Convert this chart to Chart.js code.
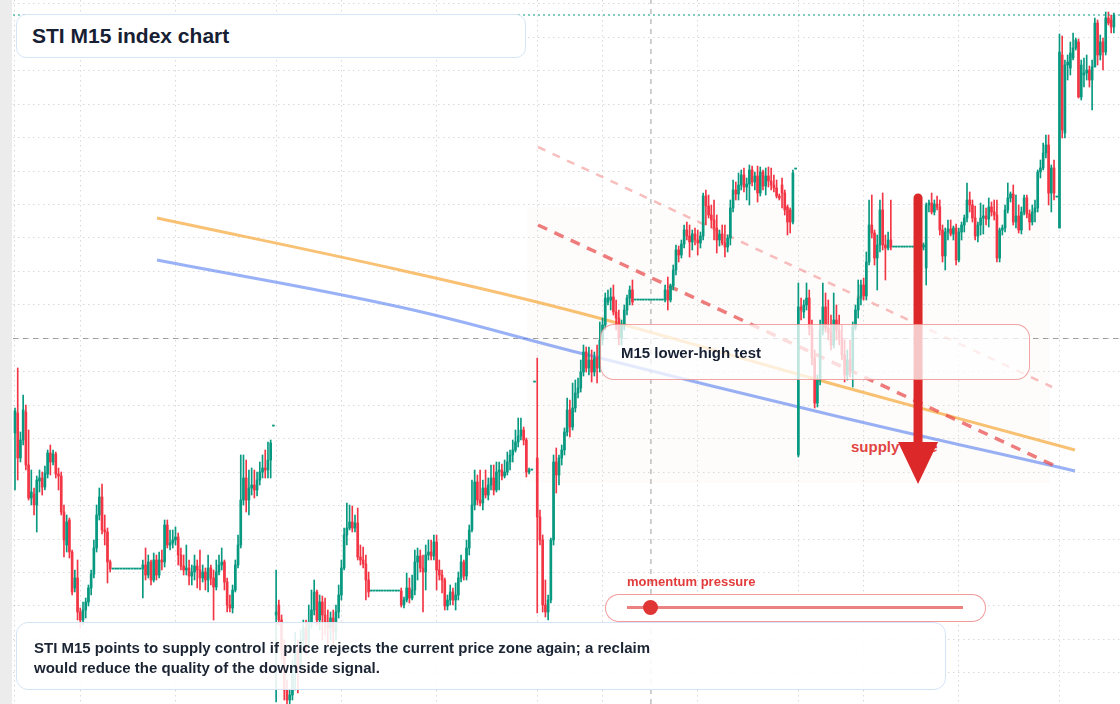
<!DOCTYPE html>
<html>
<head>
<meta charset="utf-8">
<title>STI M15 index chart</title>
<script src="https://cdn.jsdelivr.net/npm/chart.js@4.4.1/dist/chart.umd.min.js"></script>
<style>
  body { margin: 0; width: 1120px; height: 704px; overflow: hidden; background: #fff;
         font-family: "Liberation Sans", Arial, sans-serif; position: relative; }
  #strip { position: absolute; left: 0; top: 0; width: 12px; height: 704px; background: #ececec; }
  #wrap { position: absolute; left: 13px; top: 0; width: 1107px; height: 704px; z-index: 1; }
  #zoneLabel { position: absolute; left: 851px; top: 438px; font-size: 15px; line-height: 18px;
               font-weight: bold; color: #e23b3b; z-index: 0; white-space: nowrap; }
  .box { position: absolute; box-sizing: border-box; z-index: 2; white-space: nowrap; }
  #title { left: 16px; top: 14px; width: 510px; height: 44px; border: 1.5px solid #d8e4f7;
           border-radius: 10px; background: #fff; font-size: 21px; font-weight: bold;
           color: #172033; padding-left: 15px; line-height: 41px; }
  #test { left: 600px; top: 324px; width: 430px; height: 56px; border: 1.5px solid rgba(232,90,90,0.55);
          border-radius: 14px; background: rgba(255,255,255,0.74); font-size: 15px; font-weight: bold;
          color: #172033; padding-left: 20px; line-height: 55px; }
  #note { left: 16px; top: 622px; width: 930px; height: 68px; border: 1.5px solid #d6e3f7;
          border-radius: 12px; background: rgba(255,255,255,0.88); font-size: 15px; font-weight: bold;
          color: #1b2433; padding: 15px 0 0 17px; line-height: 20px; }
  #momLabel { left: 627px; top: 574px; font-size: 13px; line-height: 16px; font-weight: bold; color: #e23b3b; }
  #pill { left: 605px; top: 594px; width: 381px; height: 28px; border: 1.5px solid rgba(232,90,90,0.6);
          border-radius: 14px; background: #fff; }
  #track { position: absolute; left: 21px; top: 11px; width: 336px; height: 3px; background: rgba(228,80,80,0.72); }
  #knob { position: absolute; left: 37px; top: 5px; width: 15px; height: 15px; border-radius: 50%; background: #e03535; }
</style>
</head>
<body>
<div id="strip"></div>
<div id="zoneLabel">supply zone</div>
<div id="wrap"><canvas id="sti" width="1107" height="704"></canvas></div>
<div class="box" id="title">STI M15 index chart</div>
<div class="box" id="test">M15 lower-high test</div>
<div class="box" id="momLabel">momentum pressure</div>
<div class="box" id="pill"><div id="track"></div><div id="knob"></div></div>
<div class="box" id="note">STI M15 points to supply control if price rejects the current price zone again; a reclaim<br>would reduce the quality of the downside signal.</div>

<script>
// 15 minute candles, 96 per session day (last day only partly drawn)
const opens = [
  // day 1
  3567, 3587, 3542, 3560, 3588, 3535, 3502, 3506, 3495, 3519, 3522, 3513,
  3526, 3547, 3538, 3546, 3526, 3524, 3488, 3455, 3480, 3448, 3412, 3422,
  3388, 3380, 3390, 3398, 3412, 3426, 3452, 3485, 3503, 3470, 3468, 3438,
  3431, 3431, 3431, 3431, 3431, 3431, 3431, 3431, 3431, 3431, 3431,
  3431, 3435, 3425, 3438, 3420, 3440, 3425, 3440, 3438, 3475, 3455, 3457,
  3460, 3463, 3445, 3434, 3430, 3432, 3424, 3428, 3434, 3430, 3422, 3428,
  3420, 3432, 3422, 3413, 3428, 3435, 3438, 3418, 3395, 3392, 3410, 3435,
  3455, 3500, 3522, 3500, 3512, 3515, 3510, 3520, 3528, 3532, 3530, 3540, 3574,
  // day 2
  3385, 3395, 3380, 3350, 3310, 3300, 3305, 3330, 3350, 3335, 3360, 3372,
  3360, 3378, 3390, 3408, 3380, 3398, 3385, 3378, 3372, 3382, 3368, 3388,
  3405, 3432, 3465, 3472, 3478, 3472, 3477, 3443, 3440, 3436, 3420,
  3409, 3409, 3409, 3409, 3409, 3409, 3409, 3409, 3409, 3409, 3409,
  3409, 3395, 3400, 3412, 3402, 3410, 3438, 3444, 3432, 3428, 3445, 3448,
  3444, 3458, 3430, 3425, 3420, 3394, 3400, 3408, 3400, 3405, 3422, 3438,
  3424, 3452, 3470, 3495, 3518, 3500, 3497, 3512, 3505, 3515, 3522, 3510,
  3528, 3530, 3524, 3528, 3538, 3545, 3550, 3558, 3564, 3570, 3560, 3528, 3530, 3618,
  // day 3
  3542, 3483, 3460, 3395, 3388, 3400, 3460, 3538, 3525, 3542, 3550, 3568,
  3590, 3573, 3592, 3607, 3612, 3628, 3648, 3632, 3640, 3628, 3642, 3632,
  3660, 3675, 3698, 3700, 3703, 3688, 3682, 3662, 3675, 3690, 3702, 3710,
  3700, 3700, 3700, 3700, 3700, 3700, 3700, 3700, 3700, 3700, 3700,
  3700, 3710, 3700, 3714, 3730, 3750, 3745, 3756, 3770, 3764, 3758, 3766,
  3760, 3757, 3764, 3804, 3794, 3785, 3780, 3772, 3760, 3766, 3757, 3753,
  3762, 3792, 3810, 3806, 3815, 3825, 3813, 3816, 3830, 3818, 3824, 3807,
  3828, 3814, 3824, 3819, 3815, 3812, 3804, 3815, 3807, 3793, 3790, 3778, 3831,
  // day 4
  3545, 3693, 3688, 3695, 3702, 3672, 3642, 3597, 3620, 3670, 3693, 3672,
  3667, 3655, 3680, 3670, 3662, 3645, 3625, 3640, 3630, 3673, 3690, 3702,
  3715, 3704, 3738, 3775, 3767, 3742, 3755, 3790, 3755, 3752, 3760,
  3753, 3753, 3753, 3753, 3753, 3753, 3753, 3753, 3753, 3753, 3753,
  3753, 3732, 3795, 3797, 3788, 3796, 3793, 3770, 3744, 3768, 3771, 3766,
  3772, 3740, 3768, 3775, 3782, 3800, 3795, 3782, 3764, 3775, 3782, 3784,
  3781, 3793, 3788, 3785, 3742, 3770, 3772, 3790, 3802, 3806, 3778, 3784,
  3770, 3788, 3802, 3786, 3778, 3788, 3792, 3828, 3832, 3847, 3855, 3807, 3832, 3803,
  // day 5
  3772, 3945, 3867, 3935, 3932, 3942, 3952, 3958, 3903, 3925, 3927, 3930,
  3920, 3933, 3977, 3945, 3958, 3948, 3982, 3980, 3973
];
const highs = [
  3592, 3632, 3568, 3605, 3595, 3570, 3530, 3512, 3524, 3530, 3528, 3534,
  3550, 3555, 3550, 3548, 3532, 3528, 3495, 3485, 3482, 3450, 3430, 3440,
  3392, 3398, 3402, 3415, 3430, 3460, 3495, 3512, 3516, 3485, 3472, 3440,
  3431, 3431, 3431, 3431, 3431, 3431, 3431, 3431, 3431, 3431, 3431,
  3440, 3452, 3445, 3440, 3447, 3445, 3448, 3450, 3480, 3480, 3470, 3470,
  3473, 3467, 3452, 3445, 3455, 3440, 3435, 3445, 3440, 3450, 3435, 3432,
  3445, 3435, 3430, 3440, 3445, 3452, 3440, 3422, 3405, 3415, 3440, 3465,
  3545, 3545, 3540, 3530, 3532, 3530, 3528, 3538, 3545, 3550, 3558, 3560, 3574,

  3430, 3400, 3385, 3360, 3320, 3310, 3340, 3368, 3360, 3370, 3380, 3380,
  3395, 3410, 3420, 3410, 3405, 3404, 3402, 3390, 3388, 3390, 3395, 3415,
  3440, 3472, 3497, 3495, 3494, 3485, 3492, 3455, 3453, 3445, 3428,
  3409, 3409, 3409, 3409, 3409, 3409, 3409, 3409, 3409, 3409, 3409,
  3412, 3403, 3427, 3422, 3425, 3450, 3452, 3450, 3445, 3455, 3460, 3460,
  3465, 3465, 3440, 3430, 3422, 3405, 3415, 3412, 3417, 3428, 3445, 3440,
  3460, 3475, 3520, 3530, 3525, 3530, 3520, 3530, 3522, 3535, 3535, 3538,
  3538, 3536, 3540, 3548, 3550, 3560, 3570, 3582, 3582, 3573, 3562, 3532, 3530, 3618,

  3642, 3490, 3465, 3420, 3405, 3462, 3545, 3552, 3545, 3555, 3572, 3602,
  3600, 3617, 3620, 3622, 3640, 3655, 3653, 3653, 3650, 3648, 3655, 3678,
  3682, 3707, 3710, 3712, 3715, 3700, 3690, 3680, 3695, 3705, 3714, 3720,
  3700, 3700, 3700, 3700, 3700, 3700, 3700, 3700, 3700, 3700, 3700,
  3715, 3723, 3716, 3735, 3755, 3754, 3760, 3775, 3778, 3775, 3770, 3772,
  3770, 3768, 3807, 3810, 3805, 3795, 3800, 3785, 3770, 3775, 3775, 3765,
  3800, 3820, 3818, 3827, 3830, 3832, 3822, 3835, 3834, 3828, 3834, 3833,
  3830, 3832, 3833, 3832, 3825, 3820, 3806, 3822, 3810, 3795, 3792, 3830, 3831,

  3717, 3702, 3700, 3717, 3710, 3680, 3650, 3625, 3680, 3717, 3707, 3700,
  3685, 3707, 3695, 3685, 3675, 3660, 3650, 3660, 3678, 3695, 3720, 3720,
  3722, 3748, 3800, 3805, 3770, 3765, 3800, 3807, 3765, 3768, 3800,
  3753, 3753, 3753, 3753, 3753, 3753, 3753, 3753, 3753, 3753, 3753,
  3757, 3797, 3800, 3807, 3800, 3804, 3800, 3775, 3772, 3780, 3780, 3774,
  3776, 3772, 3778, 3785, 3817, 3808, 3800, 3794, 3778, 3797, 3795, 3792,
  3802, 3798, 3800, 3800, 3772, 3775, 3795, 3817, 3808, 3815, 3805, 3795,
  3793, 3805, 3805, 3790, 3795, 3800, 3830, 3840, 3857, 3865, 3865, 3835, 3840, 3803,

  3966, 3964, 3940, 3945, 3958, 3967, 3962, 3961, 3940, 3942, 3945, 3934,
  3940, 3982, 3980, 3965, 3962, 3988, 3988, 3985, 3987
];
const lows = [
  3510, 3520, 3538, 3555, 3530, 3500, 3495, 3485, 3468, 3508, 3505, 3510,
  3522, 3525, 3535, 3522, 3510, 3485, 3443, 3448, 3442, 3405, 3408, 3380,
  3372, 3375, 3382, 3394, 3405, 3422, 3448, 3480, 3466, 3455, 3417, 3428,
  3431, 3431, 3431, 3431, 3431, 3431, 3431, 3431, 3431, 3431, 3431,
  3402, 3420, 3422, 3415, 3418, 3420, 3422, 3430, 3433, 3452, 3450, 3452,
  3455, 3435, 3430, 3425, 3425, 3415, 3415, 3420, 3412, 3410, 3418, 3410,
  3408, 3415, 3380, 3410, 3425, 3430, 3410, 3388, 3388, 3387, 3408, 3432,
  3452, 3495, 3488, 3485, 3505, 3502, 3504, 3515, 3522, 3522, 3522, 3522, 3574,

  3298, 3375, 3340, 3300, 3296, 3296, 3300, 3310, 3307, 3330, 3350, 3345,
  3355, 3372, 3385, 3375, 3370, 3360, 3365, 3355, 3360, 3355, 3360, 3382,
  3400, 3430, 3455, 3470, 3468, 3468, 3440, 3435, 3432, 3400, 3403,
  3409, 3409, 3409, 3409, 3409, 3409, 3409, 3409, 3409, 3409, 3409,
  3393, 3392, 3398, 3397, 3400, 3405, 3420, 3428, 3388, 3410, 3440, 3440,
  3440, 3410, 3420, 3407, 3390, 3390, 3395, 3395, 3390, 3400, 3418, 3420,
  3420, 3445, 3468, 3490, 3495, 3494, 3490, 3502, 3500, 3510, 3505, 3508,
  3510, 3520, 3522, 3525, 3530, 3538, 3548, 3553, 3560, 3555, 3523, 3526, 3530, 3618,

  3387, 3455, 3388, 3383, 3380, 3397, 3455, 3507, 3515, 3535, 3545, 3564,
  3563, 3570, 3588, 3602, 3608, 3624, 3628, 3625, 3618, 3624, 3617, 3628,
  3655, 3670, 3695, 3690, 3685, 3670, 3655, 3655, 3670, 3685, 3695, 3695,
  3700, 3700, 3700, 3700, 3700, 3700, 3700, 3700, 3700, 3700, 3700,
  3698, 3690, 3698, 3710, 3725, 3738, 3742, 3752, 3760, 3743, 3750, 3755,
  3745, 3752, 3760, 3775, 3782, 3772, 3760, 3747, 3754, 3755, 3743, 3748,
  3755, 3788, 3800, 3800, 3810, 3808, 3800, 3795, 3814, 3810, 3798, 3804,
  3810, 3805, 3813, 3810, 3808, 3802, 3800, 3792, 3785, 3765, 3767, 3776, 3831,

  3543, 3680, 3682, 3690, 3665, 3635, 3592, 3593, 3615, 3665, 3668, 3660,
  3650, 3652, 3660, 3655, 3640, 3618, 3620, 3623, 3613, 3670, 3682, 3695,
  3700, 3700, 3735, 3762, 3735, 3710, 3748, 3750, 3720, 3750, 3750,
  3753, 3753, 3753, 3753, 3753, 3753, 3753, 3753, 3753, 3753, 3753,
  3750, 3715, 3788, 3786, 3785, 3790, 3765, 3738, 3730, 3760, 3764, 3760,
  3735, 3738, 3760, 3768, 3778, 3788, 3778, 3760, 3758, 3765, 3766, 3775,
  3773, 3784, 3780, 3738, 3738, 3765, 3768, 3787, 3798, 3775, 3772, 3767,
  3766, 3785, 3782, 3770, 3775, 3778, 3788, 3822, 3830, 3842, 3795, 3788, 3800, 3803,

  3772, 3862, 3862, 3920, 3925, 3940, 3950, 3902, 3900, 3913, 3920, 3913,
  3890, 3933, 3935, 3940, 3930, 3945, 3975, 3967, 3967
];
const closes = [
  3589, 3542, 3560, 3590, 3535, 3502, 3508, 3495, 3520, 3522, 3513, 3527,
  3547, 3538, 3546, 3526, 3524, 3488, 3460, 3478, 3448, 3408, 3422, 3388,
  3380, 3390, 3398, 3412, 3426, 3452, 3485, 3503, 3470, 3468, 3438, 3431,
  3431, 3431, 3431, 3431, 3431, 3431, 3431, 3431, 3431, 3431, 3431,
  3435, 3425, 3438, 3420, 3440, 3425, 3440, 3438, 3475, 3455, 3457, 3460,
  3463, 3445, 3434, 3430, 3432, 3424, 3428, 3434, 3430, 3422, 3428, 3420,
  3432, 3422, 3413, 3428, 3435, 3438, 3418, 3395, 3392, 3410, 3435, 3455,
  3500, 3522, 3500, 3512, 3515, 3510, 3520, 3528, 3532, 3530, 3540, 3557, 3574,

  3388, 3380, 3350, 3310, 3300, 3305, 3330, 3350, 3335, 3360, 3372, 3360,
  3378, 3390, 3408, 3380, 3398, 3385, 3378, 3372, 3382, 3368, 3388, 3405,
  3432, 3465, 3472, 3478, 3472, 3477, 3443, 3440, 3436, 3420, 3408,
  3409, 3409, 3409, 3409, 3409, 3409, 3409, 3409, 3409, 3409, 3409,
  3395, 3400, 3412, 3402, 3410, 3438, 3444, 3432, 3428, 3445, 3448, 3444,
  3458, 3430, 3425, 3420, 3394, 3400, 3408, 3400, 3405, 3422, 3438, 3424,
  3452, 3470, 3495, 3518, 3500, 3497, 3512, 3505, 3515, 3522, 3510, 3528,
  3530, 3524, 3528, 3538, 3545, 3550, 3558, 3564, 3570, 3560, 3528, 3530, 3530, 3618,

  3483, 3460, 3395, 3388, 3400, 3460, 3538, 3525, 3542, 3550, 3568, 3590,
  3573, 3592, 3607, 3612, 3628, 3648, 3632, 3640, 3628, 3642, 3632, 3660,
  3675, 3702, 3702, 3703, 3688, 3682, 3662, 3675, 3690, 3702, 3710, 3698,
  3700, 3700, 3700, 3700, 3700, 3700, 3700, 3700, 3700, 3700, 3700,
  3710, 3700, 3714, 3730, 3750, 3745, 3756, 3770, 3764, 3758, 3766, 3760,
  3757, 3764, 3804, 3794, 3785, 3780, 3772, 3760, 3766, 3757, 3753, 3762,
  3792, 3810, 3806, 3815, 3825, 3813, 3816, 3830, 3818, 3824, 3807, 3828,
  3814, 3824, 3819, 3815, 3812, 3804, 3802, 3807, 3790, 3778, 3778, 3827, 3831,

  3693, 3690, 3695, 3702, 3672, 3642, 3597, 3620, 3670, 3693, 3672, 3667,
  3655, 3680, 3670, 3662, 3645, 3625, 3640, 3630, 3673, 3690, 3702, 3715,
  3704, 3738, 3775, 3767, 3742, 3755, 3790, 3755, 3752, 3760, 3753,
  3753, 3753, 3753, 3753, 3753, 3753, 3753, 3753, 3753, 3753, 3753,
  3755, 3795, 3797, 3788, 3796, 3793, 3770, 3744, 3768, 3771, 3766, 3772,
  3740, 3768, 3775, 3782, 3800, 3795, 3782, 3764, 3775, 3782, 3784, 3781,
  3793, 3788, 3785, 3742, 3770, 3772, 3790, 3802, 3806, 3778, 3784, 3770,
  3788, 3802, 3786, 3778, 3788, 3792, 3828, 3832, 3847, 3855, 3807, 3832, 3807, 3803,

  3948, 3870, 3935, 3938, 3947, 3952, 3960, 3903, 3935, 3927, 3930, 3920,
  3933, 3977, 3945, 3958, 3948, 3982, 3977, 3973, 3985
];

// grid: session ticks on the time axis, price levels on the value axis
const timeTicks = [0, 24, 59, 96, 120, 155, 192, 216, 251, 288, 312, 347, 384];
const priceLevels = [3996.2, 3962.8, 3929.3, 3895.9, 3862.4, 3829.0, 3795.5, 3762.1, 3728.6,
                     3695.2, 3661.7, 3628.3, 3594.8, 3561.4, 3527.9, 3494.5, 3461.0, 3427.6,
                     3394.1, 3360.7, 3327.2];

// overlays
const trendIdx = [52.2, 141.5, 207.7, 303.3, 389.7];
const orangeCurve = [3782, 3730, 3687, 3614, 3550];
const blueCurve = [3740, 3693, 3647, 3583, 3529];
const upperDashIdx = [192.3, 381.3];
const upperDash = [3853, 3613];
const lowerDashIdx = [192.3, 382.4];
const lowerDash = [3775, 3534];
const zoneIdx = [188.2, 380.5];
const zoneLevels = [3793, 3517];
const crossIdx = 233.8;
const crossLevel = 3661.5;
const arrowIdx = 332;
const arrowLevels = [3802, 3558, 3516]; // top, head base, tip

const UP = '#089981';
const DOWN = '#f23645';
const yMin = 3296, yMax = 4000;
const xMin = -0.735, xMax = 406.25;

const n = Math.min(opens.length, highs.length, lows.length, closes.length);
const wickData = [];
const bodyData = [];
for (let i = 0; i < n; i++) {
  wickData.push({ x: i, y: [lows[i], highs[i]] });
  bodyData.push({ x: i, y: [opens[i], closes[i]] });
}
const tone = ctx => closes[ctx.dataIndex] >= opens[ctx.dataIndex] ? UP : DOWN;
const pts = (xs, ys) => xs.map((v, k) => ({ x: v, y: ys[k] }));
const lastClose = closes[n - 1];

// zone shading behind the candles, arrow on top
const overlay = {
  id: 'overlay',
  beforeDatasetsDraw(chart) {
    const { ctx, scales: { x, y } } = chart;
    const x0 = x.getPixelForValue(zoneIdx[0]), x1 = x.getPixelForValue(zoneIdx[1]);
    const y0 = y.getPixelForValue(zoneLevels[0]), y1 = y.getPixelForValue(zoneLevels[1]);
    ctx.save();
    ctx.fillStyle = 'rgba(235,205,165,0.06)';
    ctx.fillRect(x0, y0, x1 - x0, y1 - y0);
    ctx.restore();
  },
  afterDatasetsDraw(chart) {
    const { ctx, scales: { x, y } } = chart;
    const ax = x.getPixelForValue(arrowIdx);
    const yTop = y.getPixelForValue(arrowLevels[0]);
    const yBase = y.getPixelForValue(arrowLevels[1]);
    const yTip = y.getPixelForValue(arrowLevels[2]);
    ctx.save();
    ctx.strokeStyle = '#dc2828';
    ctx.fillStyle = '#dc2828';
    ctx.lineWidth = 9;
    ctx.lineCap = 'round';
    ctx.beginPath();
    ctx.moveTo(ax, yTop);
    ctx.lineTo(ax, yBase + 2);
    ctx.stroke();
    ctx.beginPath();
    ctx.moveTo(ax - 20, yBase);
    ctx.lineTo(ax + 20, yBase);
    ctx.lineTo(ax, yTip);
    ctx.closePath();
    ctx.fill();
    ctx.restore();
  }
};

new Chart(document.getElementById('sti'), {
  type: 'bar',
  data: {
    datasets: [
      { type: 'line', data: pts([crossIdx, crossIdx], [yMin, yMax]), borderColor: 'rgba(110,110,110,0.65)',
        borderWidth: 1, borderDash: [5, 5], pointRadius: 0, order: 10 },
      { type: 'line', data: pts([xMin, xMax], [crossLevel, crossLevel]), borderColor: 'rgba(110,110,110,0.65)',
        borderWidth: 1, borderDash: [5, 5], pointRadius: 0, order: 10 },
      { type: 'line', data: pts(trendIdx, orangeCurve), borderColor: 'rgba(246,160,40,0.65)',
        borderWidth: 3, pointRadius: 0, tension: 0.4, order: 8 },
      { type: 'line', data: pts(trendIdx, blueCurve), borderColor: 'rgba(85,125,240,0.6)',
        borderWidth: 3, pointRadius: 0, tension: 0.4, order: 8 },
      { type: 'line', data: pts(upperDashIdx, upperDash), borderColor: 'rgba(232,70,70,0.35)',
        borderWidth: 2.5, borderDash: [8, 8], pointRadius: 0, order: 7 },
      { type: 'line', data: pts(lowerDashIdx, lowerDash), borderColor: 'rgba(232,70,70,0.7)',
        borderWidth: 3.5, borderDash: [10, 8], pointRadius: 0, order: 7 },
      { type: 'bar', data: wickData, backgroundColor: tone, barThickness: 1, grouped: false,
        borderWidth: 0, order: 6 },
      { type: 'bar', data: bodyData, backgroundColor: tone, barThickness: 2, minBarLength: 1,
        grouped: false, borderWidth: 0, order: 5 },
      { type: 'line', data: pts([xMin, xMax], [lastClose, lastClose]), borderColor: UP,
        borderWidth: 1.2, borderDash: [2, 3], pointRadius: 0, order: 1 }
    ]
  },
  options: {
    responsive: false,
    animation: false,
    devicePixelRatio: 1,
    events: [],
    layout: { padding: 0 },
    plugins: { legend: { display: false }, tooltip: { enabled: false } },
    scales: {
      x: {
        type: 'linear', min: xMin, max: xMax, offset: false,
        ticks: { display: false },
        grid: { color: 'rgba(0,0,0,0.15)', drawTicks: false, offset: false },
        border: { display: false, dash: [1.5, 3.5] },
        afterBuildTicks: s => { s.ticks = timeTicks.map(v => ({ value: v })); }
      },
      y: {
        type: 'linear', min: yMin, max: yMax,
        ticks: { display: false },
        grid: { color: 'rgba(0,0,0,0.15)', drawTicks: false },
        border: { display: false, dash: [1.5, 3.5] },
        afterBuildTicks: s => { s.ticks = priceLevels.map(v => ({ value: v })); }
      }
    }
  },
  plugins: [overlay]
});
</script>
</body>
</html>
